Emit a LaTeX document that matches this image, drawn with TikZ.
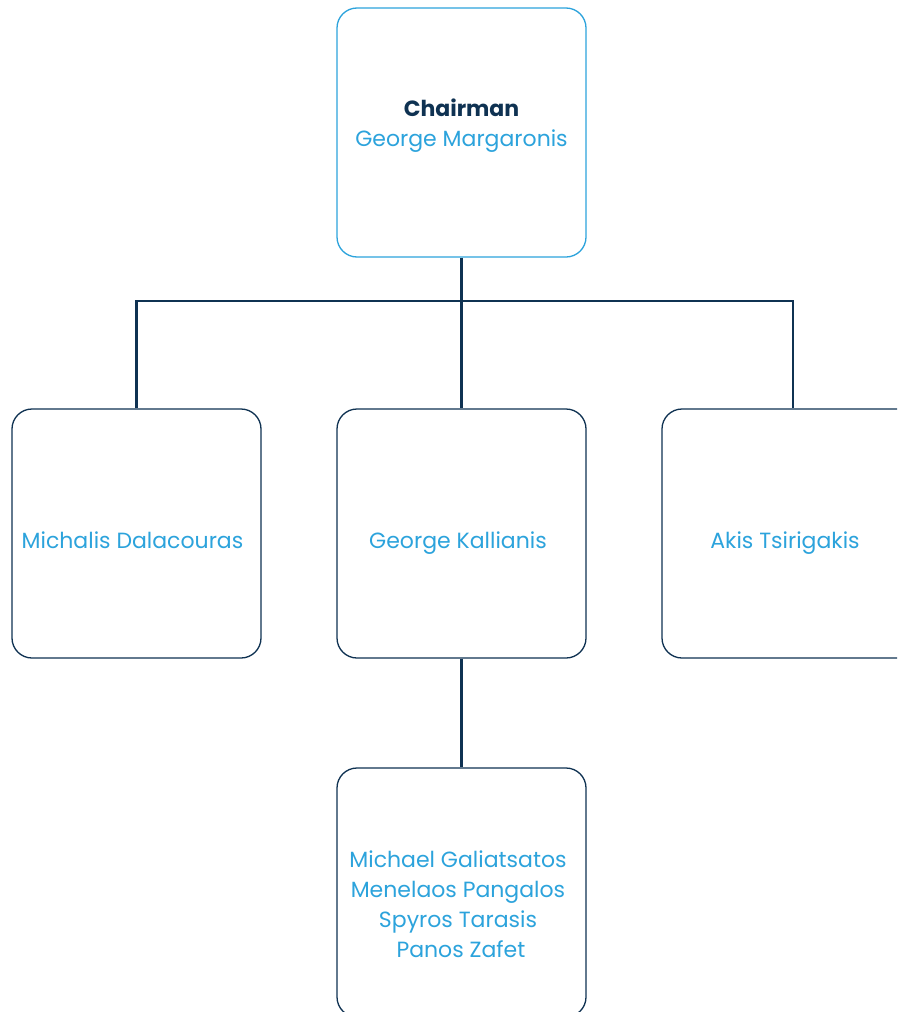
\documentclass[tikz,border=0pt]{standalone}
\usepackage{fontspec}
\setmainfont{Poppins}
\definecolor{navy}{HTML}{0F3252}
\definecolor{sky}{HTML}{2CA3DC}
\begin{document}
\begin{tikzpicture}[x=1pt,y=-1pt,
  card/.style={draw=navy,line width=1.3pt,rounded corners=20pt,fill=white,
    minimum width=249pt,minimum height=249pt,inner sep=0pt},
  person/.style={text=sky,font=\fontsize{22}{30}\selectfont,align=center,inner sep=0pt},
  conn/.style={draw=navy,line width=2.6pt}]
\useasboundingbox[clip] (0,0) rectangle (897,1012);
\fill[white] (0,0) rectangle (897,1012);

% org boxes
\node[card,draw=sky] (top) at (461.5,132.5) {};
\node[card] (left) at (136.5,533.5) {};
\node[card] (mid) at (461.5,533.5) {};
\node[card,minimum width=262pt] (right) at (793,533.5) {};
\node[card] (bot) at (461.5,892.5) {};

% connectors
\coordinate (bus) at (461.5,301);
\draw[conn] (top.south) -- (bus);
\draw[conn] (left.north) |- (bus) -| (right.north);
\draw[conn] (bus) -- (mid.north);
\draw[conn] (mid.south) -- (bot.north);

% texts
\node[person] (ttop) at (461.5,126) {{\color{navy}\bfseries Chairman}\\George Margaronis};
\node[person,anchor=base] (tleft) at (132.5,548) {Michalis Dalacouras};
\node[person,anchor=base] (tmid) at (458,548) {George Kallianis};
\node[person,anchor=base] (tright) at (785,548) {Akis Tsirigakis};
\node[person] (tbot) at (458,904) {Michael Galiatsatos\\Menelaos Pangalos\\Spyros Tarasis\\\ Panos Zafet};
\end{tikzpicture}
\end{document}
